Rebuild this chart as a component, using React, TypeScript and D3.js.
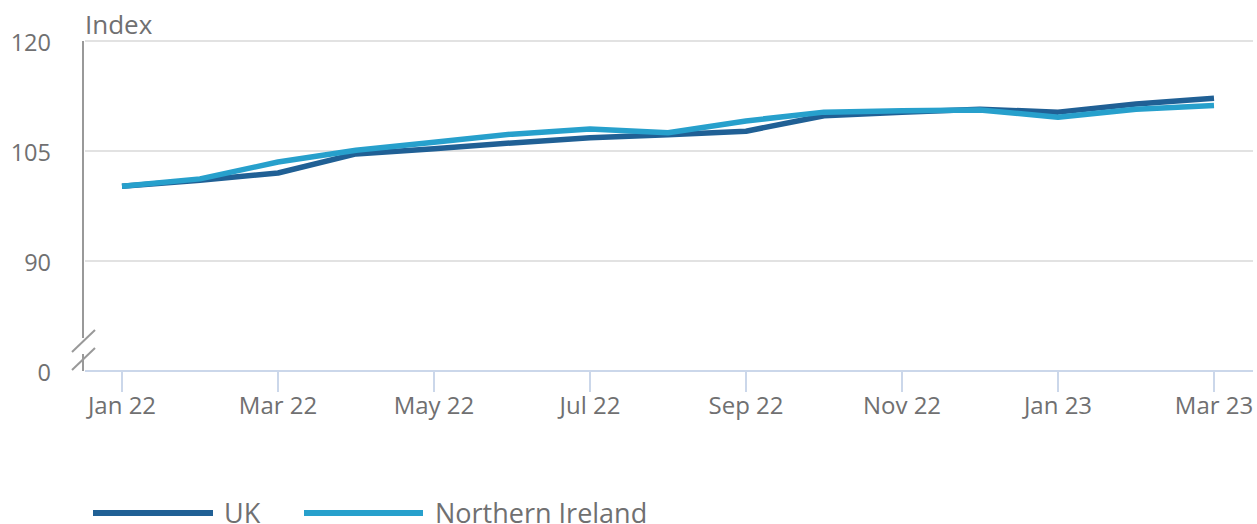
import React from 'react';
import * as d3 from 'd3';

const months = [
  'Jan 22', 'Feb 22', 'Mar 22', 'Apr 22', 'May 22', 'Jun 22', 'Jul 22', 'Aug 22',
  'Sep 22', 'Oct 22', 'Nov 22', 'Dec 22', 'Jan 23', 'Feb 23', 'Mar 23',
];
const ukValues = [100.2, 101.0, 102.0, 104.6, 105.3, 106.1, 106.8, 107.2, 107.7, 109.8, 110.3, 110.7, 110.3, 111.4, 112.2];
const niValues = [100.2, 101.2, 103.5, 105.1, 106.2, 107.3, 108.0, 107.5, 109.1, 110.3, 110.5, 110.6, 109.6, 110.7, 111.2];
const yTicks = [0, 90, 105, 120];
const xTickLabels = ['Jan 22', 'Mar 22', 'May 22', 'Jul 22', 'Sep 22', 'Nov 22', 'Jan 23', 'Mar 23'];

const series = [
  { name: 'UK', values: ukValues, color: '#206095' },
  { name: 'Northern Ireland', values: niValues, color: '#27a0cc' },
];

const width = 1257;
const height = 524;
const font = '"Open Sans", "Noto Sans", sans-serif';
const textColor = '#707071';

export default function App() {
  // x positions for each month
  const x = d3.scalePoint<string>().domain(months).range([122, 1214]);
  // broken axis: 0 sits just under 90
  const y = d3.scaleLinear().domain([0, 90, 120]).range([371, 261, 41]);

  const line = d3
    .line<number>()
    .x((_, i) => x(months[i]) as number)
    .y((d) => y(d));

  const axisX = 83;
  const plotRight = 1253;

  return (
    <svg
      width={width}
      height={height}
      style={{ position: 'absolute', left: 0, top: 0, display: 'block' }}
      fontFamily={font}
    >
      {/* gridlines */}
      {yTicks.filter((t) => t > 0).map((t) => (
        <line key={t} x1={axisX + 2} x2={plotRight} y1={y(t)} y2={y(t)} stroke="#e2e2e2" strokeWidth={2} />
      ))}

      {/* y tick labels */}
      {yTicks.map((t) => (
        <text key={t} x={51} y={y(t) + 2} dy="0.35em" textAnchor="end" fontSize={23.5} fill={textColor}>
          {t}
        </text>
      ))}
      <text x={85} y={34} fontSize={26} fill={textColor}>Index</text>

      {/* y axis with break */}
      <line x1={axisX} x2={axisX} y1={y(120)} y2={338} stroke="#999" strokeWidth={2} />
      <line x1={axisX} x2={axisX} y1={354} y2={y(0)} stroke="#999" strokeWidth={2} />
      <line x1={72} y1={352} x2={95} y2={330} stroke="#999" strokeWidth={2} />
      <line x1={72} y1={370} x2={95} y2={348} stroke="#999" strokeWidth={2} />

      {/* x axis */}
      <line x1={axisX + 2} x2={plotRight} y1={y(0)} y2={y(0)} stroke="#cbd7ea" strokeWidth={2} />
      {xTickLabels.map((m) => (
        <g key={m} transform={`translate(${x(m)},${y(0)})`}>
          <line y1={0} y2={21} stroke="#cbd7ea" strokeWidth={2} />
          <text y={35} dy="0.35em" textAnchor="middle" fontSize={24} fill={textColor}>{m}</text>
        </g>
      ))}

      {/* lines */}
      {series.map((s) => (
        <path
          key={s.name}
          d={line(s.values) ?? ''}
          fill="none"
          stroke={s.color}
          strokeWidth={5.5}
          strokeLinejoin="round"
        />
      ))}

      {/* legend */}
      <line x1={93} x2={213} y1={513} y2={513} stroke={series[0].color} strokeWidth={6} />
      <text x={224} y={514} dy="0.35em" fontSize={27} fill={textColor}>{series[0].name}</text>
      <line x1={304} x2={423} y1={513} y2={513} stroke={series[1].color} strokeWidth={6} />
      <text x={435} y={514} dy="0.35em" fontSize={27} fill={textColor}>{series[1].name}</text>
    </svg>
  );
}
